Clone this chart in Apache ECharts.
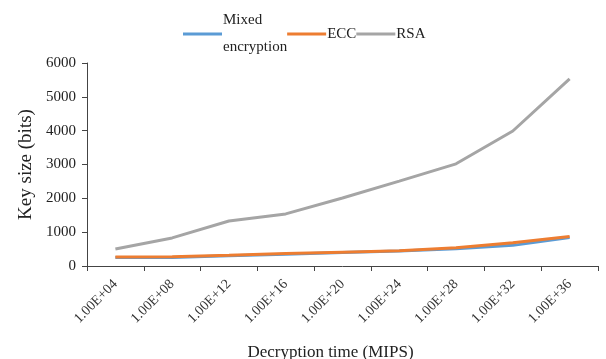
<!DOCTYPE html>
<html><head><meta charset="utf-8">
<script src="https://cdn.jsdelivr.net/npm/echarts@6/dist/echarts.min.js"></script>
<style>html,body{margin:0;padding:0;background:#fff}#c{width:606px;height:359px}</style>
</head><body><div id="c"></div>
<script>
var categories = ['1.00E+04','1.00E+08','1.00E+12','1.00E+16','1.00E+20','1.00E+24','1.00E+28','1.00E+32','1.00E+36'];
var mixed = [250, 250, 300, 350, 400, 440, 510, 610, 840];
var ecc = [265, 275, 320, 370, 410, 450, 540, 690, 870];
var rsa = [500, 830, 1330, 1540, 2010, 2510, 3020, 3990, 5530];
var yTicks = [0, 1000, 2000, 3000, 4000, 5000, 6000];
var font = 'Liberation Serif';
var chart = echarts.init(document.getElementById('c'));
chart.setOption({
  animation: false,
  backgroundColor: '#fff',
  textStyle: {fontFamily: font},
  legend: {
    left: 183, top: 7, padding: 0, itemWidth: 39, itemHeight: 3, itemGap: 0,
    icon: 'rect',
    textStyle: {fontFamily: font, fontSize: 15, color: '#222', lineHeight: 27, padding: [0,0,0,-4]},
    data: [
      {name: 'Mixed\nencryption'},
      {name: 'ECC'},
      {name: 'RSA'}
    ]
  },
  grid: {left: 87, right: 8, top: 63, bottom: 93, containLabel: false, outerBoundsMode: 'none'},
  xAxis: {
    type: 'category', data: categories, boundaryGap: true,
    name: 'Decryption time (MIPS)', nameLocation: 'middle', nameGap: 78,
    nameTextStyle: {fontFamily: font, fontSize: 17, color: '#222', padding: [0, 24, 0, 0]},
    axisLine: {lineStyle: {color: '#444', width: 1}},
    axisTick: {show: true, alignWithLabel: false, length: 5, lineStyle: {color: '#444'}},
    axisLabel: {rotate: 45, fontFamily: font, fontSize: 14, color: '#333', margin: 16}
  },
  yAxis: {
    type: 'value', min: 0, max: 6000, interval: 1000,
    name: 'Key size (bits)', nameLocation: 'middle', nameGap: 50,
    nameTextStyle: {fontFamily: font, fontSize: 19, color: '#222'},
    axisLine: {show: true, lineStyle: {color: '#444', width: 1}},
    axisTick: {show: true, length: 5, lineStyle: {color: '#444'}},
    splitLine: {show: false},
    axisLabel: {fontFamily: font, fontSize: 15, color: '#222', margin: 11,
      formatter: function(v){ return yTicks.indexOf(v) >= 0 ? String(v) : ''; }}
  },
  series: [
    {name: 'Mixed\nencryption', type: 'line', data: mixed, symbol: 'none', lineStyle: {color: '#5B9BD5', width: 3}, itemStyle: {color: '#5B9BD5'}},
    {name: 'ECC', type: 'line', data: ecc, symbol: 'none', lineStyle: {color: '#ED7D31', width: 3}, itemStyle: {color: '#ED7D31'}},
    {name: 'RSA', type: 'line', data: rsa, symbol: 'none', lineStyle: {color: '#A5A5A5', width: 3}, itemStyle: {color: '#A5A5A5'}}
  ]
});
</script></body></html>
